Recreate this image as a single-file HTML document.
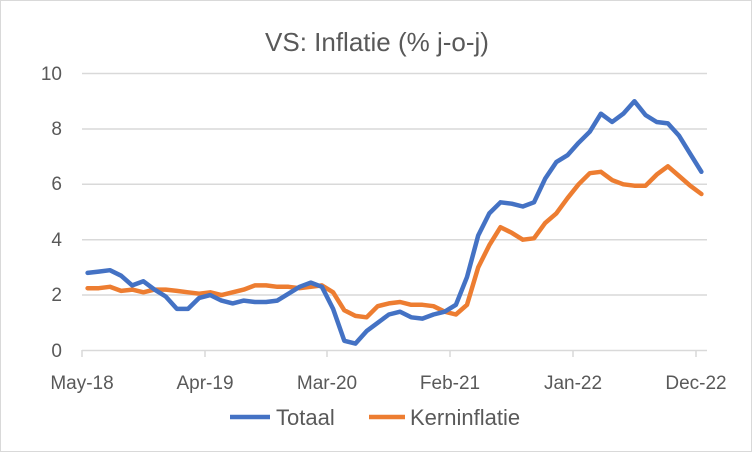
<!DOCTYPE html>
<html><head><meta charset="utf-8"><style>
html,body{margin:0;padding:0;background:#fff}
svg{display:block;font-family:"Liberation Sans",sans-serif}
</style></head><body>
<svg id="c" width="752" height="452" viewBox="0 0 752 452" xmlns="http://www.w3.org/2000/svg">
<rect x="0.5" y="0.5" width="751" height="451" fill="#fff" stroke="#d9d9d9"/>
<text x="377" y="51" text-anchor="middle" font-size="26" fill="#595959">VS: Inflatie (% j-o-j)</text>
<g stroke="#d9d9d9" stroke-width="1.5">
<line x1="82" x2="707" y1="73.5" y2="73.5"/>
<line x1="82" x2="707" y1="129" y2="129"/>
<line x1="82" x2="707" y1="184.3" y2="184.3"/>
<line x1="82" x2="707" y1="239.7" y2="239.7"/>
<line x1="82" x2="707" y1="295" y2="295"/>
<line x1="82" x2="707" y1="350.5" y2="350.5"/>
<line x1="82" x2="82" y1="350" y2="357"/>
<line x1="205" x2="205" y1="350" y2="357"/>
<line x1="327" x2="327" y1="350" y2="357"/>
<line x1="450" x2="450" y1="350" y2="357"/>
<line x1="573" x2="573" y1="350" y2="357"/>
<line x1="696" x2="696" y1="350" y2="357"/>
</g>
<g font-size="19" fill="#595959" text-anchor="end">
<text x="62" y="80">10</text><text x="62" y="135">8</text><text x="62" y="190">6</text>
<text x="62" y="246">4</text><text x="62" y="301">2</text><text x="62" y="357">0</text>
</g>
<g font-size="19" fill="#595959" text-anchor="middle">
<text x="82" y="389">May-18</text><text x="205" y="389">Apr-19</text><text x="327" y="389">Mar-20</text>
<text x="450" y="389">Feb-21</text><text x="573" y="389">Jan-22</text><text x="696" y="389">Dec-22</text>
</g>
<polyline id="core" fill="none" stroke="#ED7D31" stroke-width="4.5" stroke-linejoin="round" stroke-linecap="round"/>
<polyline id="tot" fill="none" stroke="#4472C4" stroke-width="4.5" stroke-linejoin="round" stroke-linecap="round"/>
<line x1="230" x2="270" y1="417" y2="417" stroke="#4472C4" stroke-width="4.5"/>
<text x="276" y="425" font-size="22" fill="#595959">Totaal</text>
<line x1="369" x2="405" y1="417" y2="417" stroke="#ED7D31" stroke-width="4.5"/>
<text x="410" y="425" font-size="22" fill="#595959">Kerninflatie</text>
</svg>
<script>
var t=[2.8,2.85,2.9,2.7,2.35,2.5,2.2,1.95,1.5,1.5,1.9,2.0,1.8,1.7,1.8,1.75,1.75,1.8,2.05,2.3,2.45,2.3,1.5,0.35,0.25,0.7,1.0,1.3,1.4,1.2,1.15,1.3,1.4,1.65,2.65,4.15,4.95,5.35,5.3,5.2,5.35,6.2,6.8,7.05,7.5,7.9,8.55,8.25,8.55,9.0,8.5,8.25,8.2,7.75,7.1,6.45];
var k=[2.25,2.25,2.3,2.15,2.2,2.1,2.2,2.2,2.15,2.1,2.05,2.1,2.0,2.1,2.2,2.35,2.35,2.3,2.3,2.25,2.3,2.35,2.1,1.45,1.25,1.2,1.6,1.7,1.75,1.65,1.65,1.6,1.4,1.3,1.65,3.0,3.8,4.45,4.25,4.0,4.05,4.6,4.95,5.5,6.0,6.4,6.45,6.15,6.0,5.95,5.95,6.35,6.65,6.3,5.95,5.65];
function pts(a){return a.map(function(v,i){return (82+11.16*(i+0.5)).toFixed(1)+','+(350.5-27.7*v).toFixed(1)}).join(' ')}
document.getElementById('tot').setAttribute('points',pts(t));
document.getElementById('core').setAttribute('points',pts(k));
</script>
</body></html>
